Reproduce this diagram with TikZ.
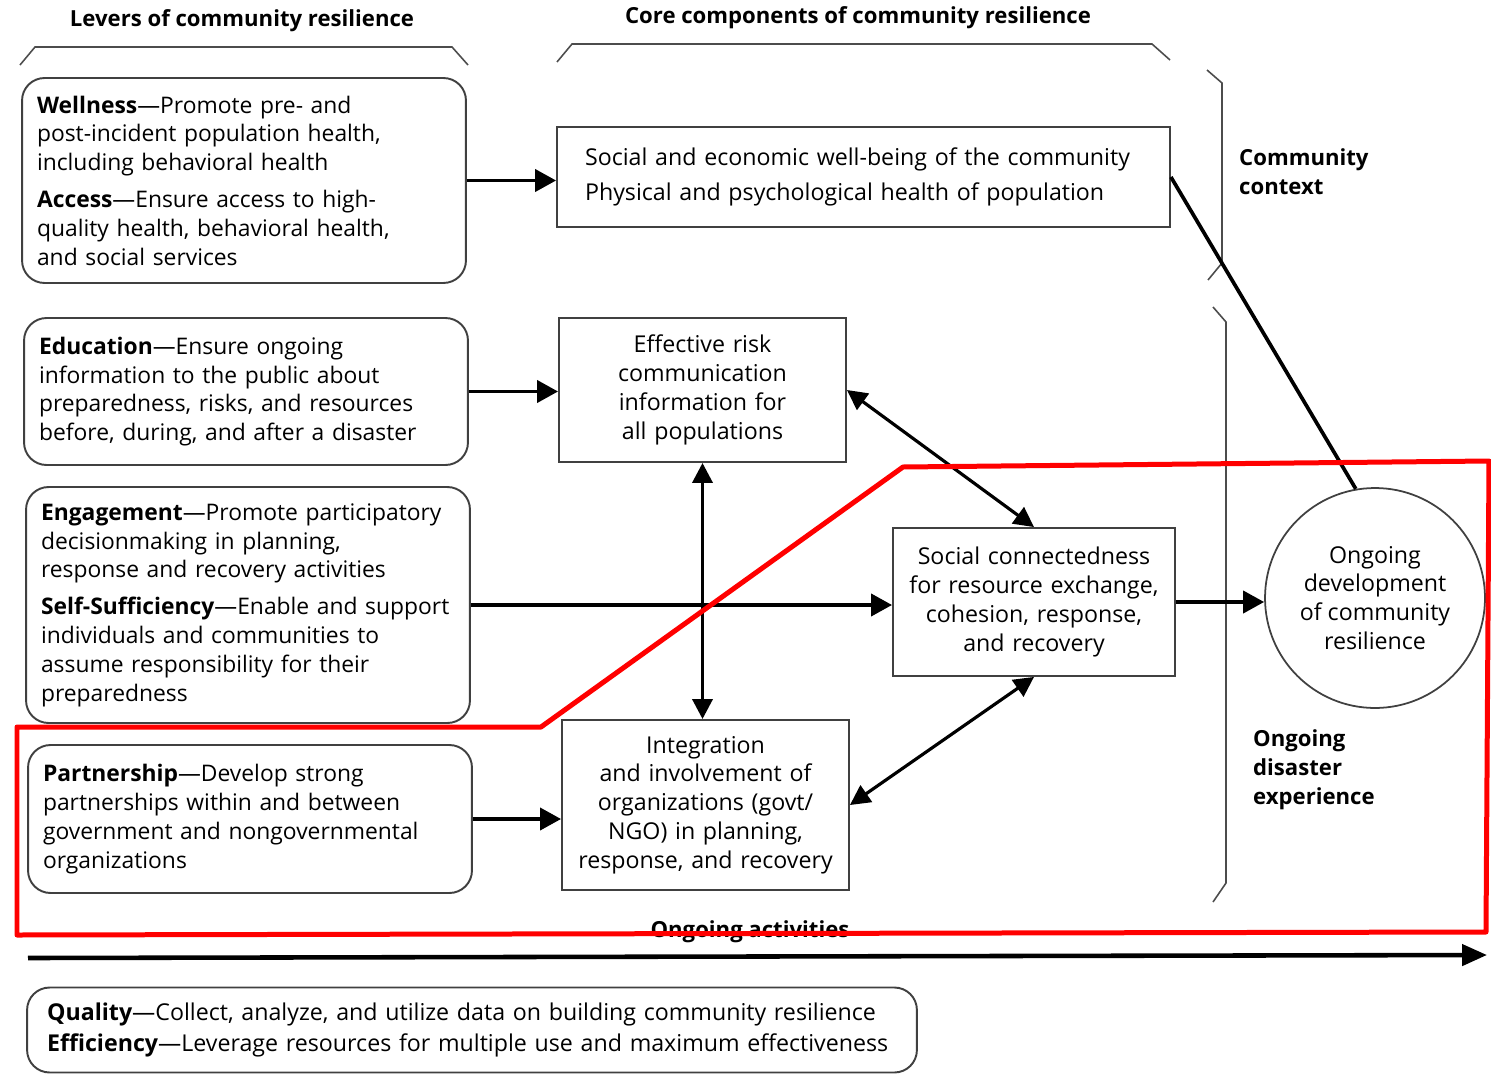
\documentclass[tikz,border=0pt]{standalone}
\usepackage{fontspec}
\setmainfont{Open Sans}
\usetikzlibrary{arrows.meta,positioning}

\begin{document}
\begin{tikzpicture}[x=0.02cm,y=-0.02cm,
  txt/.style={font=\fontsize{13.2}{16.4}\selectfont},
  lever/.style={font=\fontsize{13}{16.4}\selectfont,draw=black!75,line width=1.1pt,rounded corners=0.45cm,align=left,
    inner xsep=0.3cm,text width=8.28cm,minimum width=8.88cm},
  core/.style={txt,draw=black!75,line width=1.1pt,align=center,inner sep=0pt},
  bracket/.style={draw=black!70,line width=0.9pt},
  conn/.style={line width=2.2pt,-{Triangle[length=0.42cm,width=0.44cm]}},
  twoway/.style={line width=1.8pt,{Triangle[length=0.4cm,width=0.4cm]}-{Triangle[length=0.4cm,width=0.4cm]}},
  heading/.style={font=\fontsize{12.6}{16.4}\selectfont\bfseries}]
\useasboundingbox (0,0) rectangle (1491,1075);

% headings and brackets
\node[heading] (tLevers) at (242,21) {Levers of community resilience};
\node[heading] (tCore) at (858,18) {Core components of community resilience};
\draw[bracket] (20,65) -- (35,47) -- (452,47) -- (468,65);
\draw[bracket] (557,62) -- (572,44) -- (1152,44) -- (1170,60);
\draw[bracket] (1207,70) -- (1222,83) -- (1222,263) -- (1208,280);
\draw[bracket] (1213,307) -- (1226,322) -- (1226,883) -- (1213,902);

% levers
\node[lever,minimum height=4.1cm] (lvWell) at (244,180.5)
  {\textbf{Wellness}---Promote pre- and\\ post-incident population health,\\ including behavioral health\\[4.5pt]
   \textbf{Access}---Ensure access to high-\\ quality health, behavioral health,\\ and social services};
\node[lever,minimum height=2.94cm] (lvEdu) at (246,391.5)
  {\textbf{Education}---Ensure ongoing\\ information to the public about\\ preparedness, risks, and resources\\ before, during, and after a disaster};
\node[lever,minimum height=4.72cm] (lvEng) at (248,605)
  {\textbf{Engagement}---Promote participatory\\ decisionmaking in planning,\\ response and recovery activities\\[4.5pt]
   \textbf{Self-Sufficiency}---Enable and support\\ individuals and communities to\\ assume responsibility for their\\ preparedness};
\node[lever,minimum height=2.96cm] (lvPart) at (250,819)
  {\textbf{Partnership}---Develop strong\\ partnerships within and between\\ government and nongovernmental\\ organizations};
\node[lever,text width=17.0cm,minimum width=17.76cm,minimum height=1.7cm,
  inner xsep=0.4cm,font=\fontsize{13.2}{16.4}\selectfont] (lvQual) at (472,1030)
  {\textbf{Quality}---Collect, analyze, and utilize data on building community resilience\\[1.6pt]
   \textbf{Efficiency}---Leverage resources for multiple use and maximum effectiveness};

% core components
\node[core,minimum width=12.26cm,minimum height=2cm,text width=11.14cm,align=left] (ccWell) at (863.5,177)
  {Social and economic well-being of the community\\[3.8pt] Physical and psychological health of population};
\node[core,minimum width=5.74cm,minimum height=2.88cm,text width=5.6cm] (ccRisk) at (702.5,390)
  {Effective risk\\ communication\\ information for\\ all populations};
\node[core,minimum width=5.64cm,minimum height=2.96cm,text width=5.5cm] (ccSocial) at (1034,602)
  {Social connectedness\\ for resource exchange,\\ cohesion, response,\\ and recovery};
\node[core,minimum width=5.74cm,minimum height=3.4cm,text width=5.6cm] (ccInteg) at (705.5,805)
  {Integration\\ and involvement of\\ organizations (govt/\\ NGO) in planning,\\ response, and recovery};

% outcome
\node[txt,circle,draw=black!75,line width=1pt,minimum size=4.4cm,align=center] (devCircle) at (1375,598)
  {Ongoing\\ development\\ of community\\ resilience};
\node[heading,anchor=west,align=left] (lblContext) at (1233,171.5) {Community\\ context};
\node[heading,anchor=west,align=left] (lblDisaster) at (1247,770) {Ongoing\\ disaster\\ experience};

% connectors
\draw[conn] (lvWell.east) -- (lvWell.east -| ccWell.west);
\draw[conn] (lvEdu.east) -- (lvEdu.east -| ccRisk.west);
\draw[conn] (lvEng.east) -- (lvEng.east -| ccSocial.west);
\draw[conn] (lvPart.east) -- (lvPart.east -| ccInteg.west);
\draw[twoway,line width=2.1pt] (ccRisk.south) -- (ccRisk.south |- ccInteg.north);
\draw[twoway] (ccRisk.east) -- (ccSocial.north);
\draw[twoway] (ccInteg.east) -- (ccSocial.south);
\draw[conn] (ccSocial.east) -- (ccSocial.east -| devCircle.west);
\draw[line width=2.1pt] (ccWell.east) -- (devCircle.100);

% ongoing activities
\node[heading] (lblActivities) at (750,932) {Ongoing activities};
\coordinate (actStart) at (28,958);
\coordinate (actEnd) at (1487,955);
\draw[line width=2.6pt,-{Triangle[length=0.5cm,width=0.42cm]}] (actStart) -- (actEnd);

% red outline
\draw[red,line width=0.1cm,line join=round]
  (17,727) -- (541,727) -- (903,467) -- (1489,461) -- (1486,932) -- (17,935) -- cycle;
\end{tikzpicture}
\end{document}
